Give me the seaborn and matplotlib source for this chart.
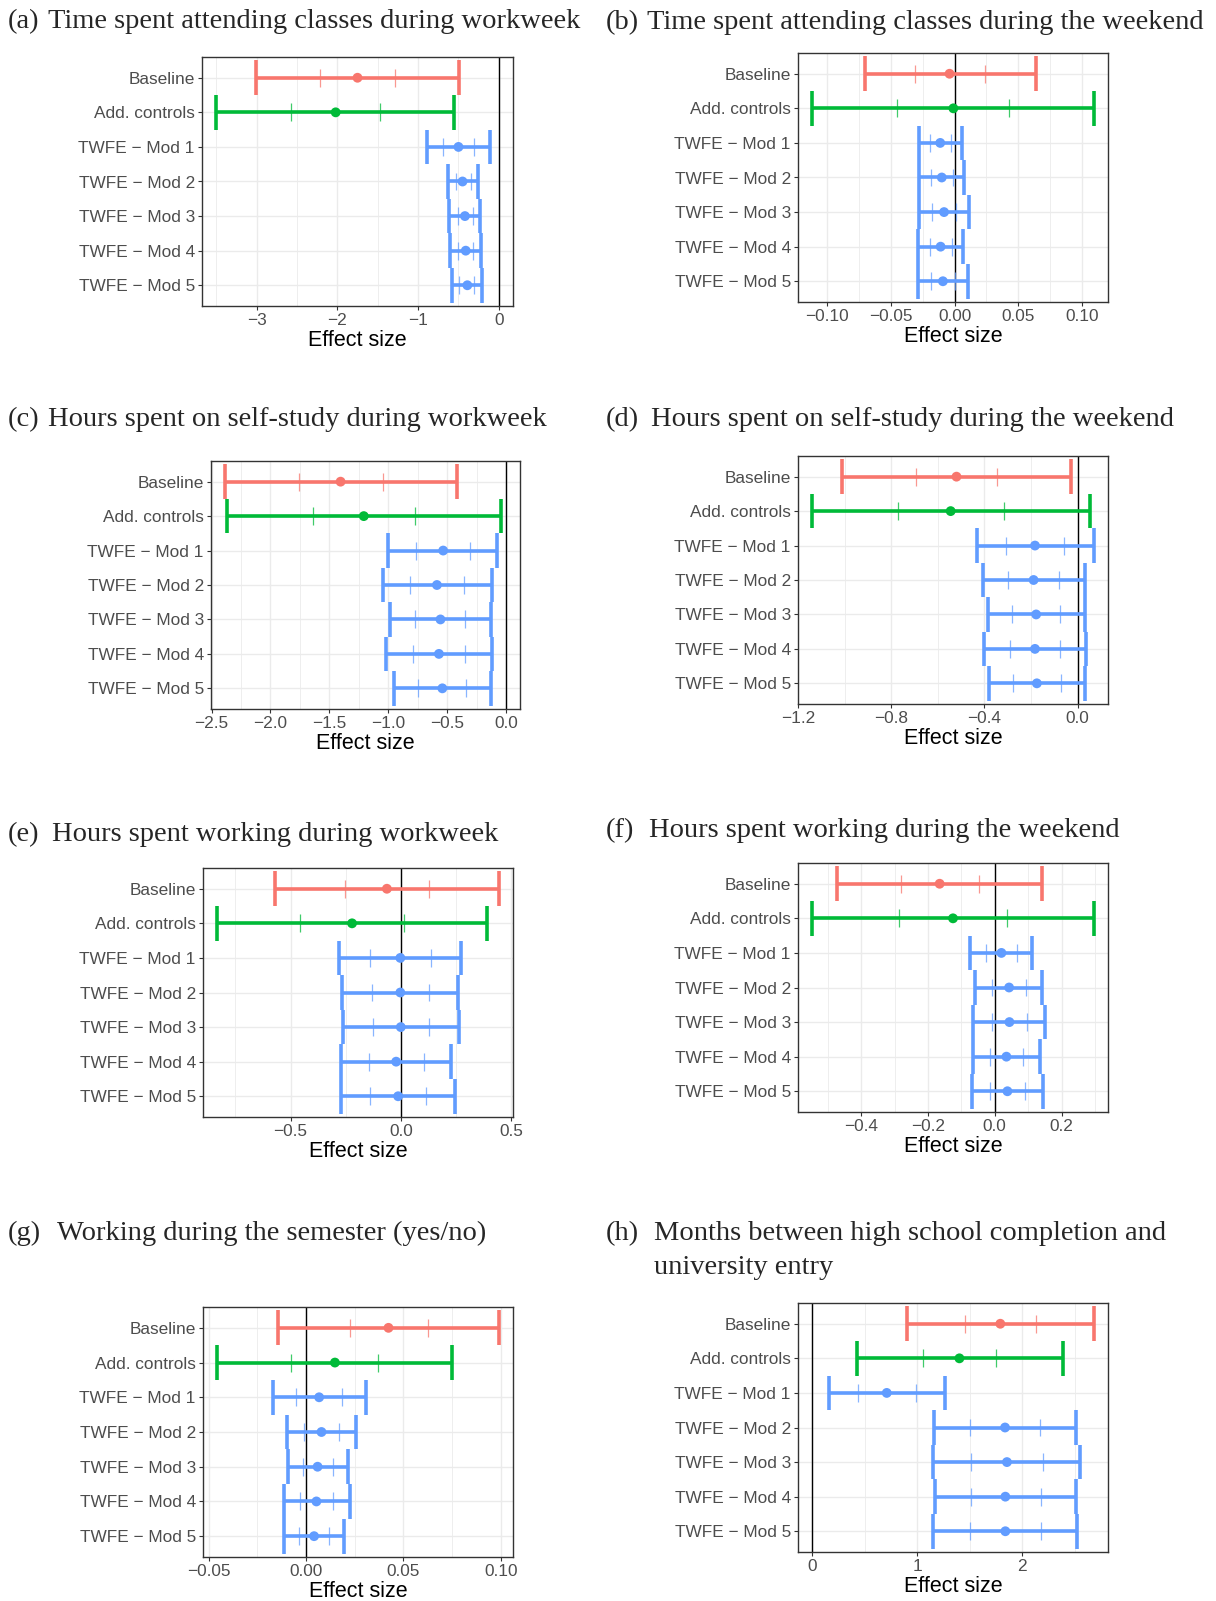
import numpy as np
import matplotlib
matplotlib.use("Agg")
import matplotlib.pyplot as plt
import seaborn as sns

# ---------------- data ----------------
models = ["Baseline", "Add. controls", "TWFE \u2212 Mod 1", "TWFE \u2212 Mod 2",
          "TWFE \u2212 Mod 3", "TWFE \u2212 Mod 4", "TWFE \u2212 Mod 5"]
groups = ["Baseline", "Add. controls", "TWFE", "TWFE", "TWFE", "TWFE", "TWFE"]
palette = {"Baseline": "#F8766D", "Add. controls": "#00BA38", "TWFE": "#619CFF"}

# (a)
a_est = [-1.75, -2.02, -0.50, -0.45, -0.42, -0.41, -0.39]
a_lo = [-3.01, -3.50, -0.885, -0.63, -0.615, -0.60, -0.58]
a_hi = [-0.49, -0.55, -0.11, -0.26, -0.23, -0.22, -0.21]
a_ilo = [-2.21, -2.57, -0.69, -0.53, -0.51, -0.50, -0.49]
a_ihi = [-1.28, -1.47, -0.31, -0.35, -0.32, -0.32, -0.31]
a_ticks = [-3, -2, -1, 0]
a_labels = ["\u22123", "\u22122", "\u22121", "0"]

# (b)
b_est = [-0.0039, -0.0009, -0.0112, -0.0100, -0.0082, -0.0109, -0.0091]
b_lo = [-0.0703, -0.1115, -0.0279, -0.0276, -0.0279, -0.0285, -0.0285]
b_hi = [0.0636, 0.1091, 0.0055, 0.0073, 0.0115, 0.0070, 0.0106]
b_ilo = [-0.0309, -0.0452, -0.0194, -0.0188, -0.0176, -0.0194, -0.0188]
b_ihi = [0.0242, 0.0430, -0.0027, -0.0012, 0.0015, -0.0021, 0.0006]
b_ticks = [-0.10, -0.05, 0.0, 0.05, 0.10]
b_labels = ["\u22120.10", "\u22120.05", "0.00", "0.05", "0.10"]

# (c)
c_est = [-1.404, -1.207, -0.533, -0.586, -0.556, -0.569, -0.540]
c_lo = [-2.385, -2.372, -1.001, -1.044, -0.988, -1.021, -0.949]
c_hi = [-0.419, -0.039, -0.072, -0.121, -0.128, -0.115, -0.131]
c_ilo = [-1.760, -1.636, -0.762, -0.815, -0.772, -0.792, -0.743]
c_ihi = [-1.044, -0.772, -0.304, -0.353, -0.344, -0.347, -0.337]
c_ticks = [-2.5, -2.0, -1.5, -1.0, -0.5, 0.0]
c_labels = ["\u22122.5", "\u22122.0", "\u22121.5", "\u22121.0", "\u22120.5", "0.0"]

# (d)
d_est = [-0.520, -0.545, -0.183, -0.189, -0.178, -0.183, -0.175]
d_lo = [-1.010, -1.140, -0.432, -0.407, -0.386, -0.400, -0.381]
d_hi = [-0.030, 0.053, 0.070, 0.030, 0.032, 0.037, 0.033]
d_ilo = [-0.693, -0.769, -0.307, -0.297, -0.281, -0.291, -0.278]
d_ihi = [-0.346, -0.317, -0.058, -0.081, -0.075, -0.075, -0.071]
d_ticks = [-1.2, -0.8, -0.4, 0.0]
d_labels = ["\u22121.2", "\u22120.8", "\u22120.4", "0.0"]

# (e)
e_est = [-0.063, -0.221, -0.002, -0.002, 0.000, -0.021, -0.012]
e_lo = [-0.571, -0.833, -0.279, -0.267, -0.264, -0.269, -0.269]
e_hi = [0.445, 0.392, 0.274, 0.260, 0.262, 0.228, 0.244]
e_ilo = [-0.255, -0.455, -0.139, -0.132, -0.128, -0.142, -0.139]
e_ihi = [0.128, 0.014, 0.135, 0.128, 0.130, 0.104, 0.116]
e_ticks = [-0.5, 0.0, 0.5]
e_labels = ["\u22120.5", "0.0", "0.5"]

# (f)
f_est = [-0.165, -0.125, 0.020, 0.043, 0.044, 0.035, 0.038]
f_lo = [-0.472, -0.547, -0.073, -0.058, -0.064, -0.066, -0.068]
f_hi = [0.143, 0.297, 0.113, 0.143, 0.150, 0.136, 0.144]
f_ilo = [-0.282, -0.288, -0.027, -0.007, -0.009, -0.015, -0.015]
f_ihi = [-0.048, 0.037, 0.066, 0.093, 0.096, 0.086, 0.091]
f_ticks = [-0.4, -0.2, 0.0, 0.2]
f_labels = ["\u22120.4", "\u22120.2", "0.0", "0.2"]

# (g)
g_est = [0.0424, 0.0149, 0.0068, 0.0080, 0.0060, 0.0054, 0.0042]
g_lo = [-0.0143, -0.0456, -0.0171, -0.0099, -0.0093, -0.0115, -0.0111]
g_hi = [0.0991, 0.0752, 0.0308, 0.0259, 0.0215, 0.0225, 0.0197]
g_ilo = [0.0225, -0.0074, -0.0052, -0.0008, -0.0016, -0.0030, -0.0034]
g_ihi = [0.0629, 0.0370, 0.0187, 0.0169, 0.0137, 0.0139, 0.0119]
g_ticks = [-0.05, 0.0, 0.05, 0.10]
g_labels = ["\u22120.05", "0.00", "0.05", "0.10"]

# (h)
h_est = [1.790, 1.401, 0.710, 1.835, 1.853, 1.838, 1.838]
h_lo = [0.904, 0.426, 0.162, 1.162, 1.154, 1.165, 1.151]
h_hi = [2.680, 2.382, 1.265, 2.507, 2.551, 2.511, 2.522]
h_ilo = [1.452, 1.055, 0.438, 1.500, 1.507, 1.507, 1.500]
h_ihi = [2.129, 1.750, 0.985, 2.169, 2.199, 2.173, 2.176]
h_ticks = [0, 1, 2]
h_labels = ["0", "1", "2"]

titles_tag = ["(a)", "(b)", "(c)", "(d)", "(e)", "(f)", "(g)", "(h)"]
titles_text = [
    "Time spent attending classes during workweek",
    "Time spent attending classes during the weekend",
    "Hours spent on self-study during workweek",
    "Hours spent on self-study during the weekend",
    "Hours spent working during workweek",
    "Hours spent working during the weekend",
    "Working during the semester (yes/no)",
    "Months between high school completion and\nuniversity entry",
]
xlabel = "Effect size"

panels = [
    (a_est, a_lo, a_hi, a_ilo, a_ihi, a_ticks, a_labels),
    (b_est, b_lo, b_hi, b_ilo, b_ihi, b_ticks, b_labels),
    (c_est, c_lo, c_hi, c_ilo, c_ihi, c_ticks, c_labels),
    (d_est, d_lo, d_hi, d_ilo, d_ihi, d_ticks, d_labels),
    (e_est, e_lo, e_hi, e_ilo, e_ihi, e_ticks, e_labels),
    (f_est, f_lo, f_hi, f_ilo, f_ihi, f_ticks, f_labels),
    (g_est, g_lo, g_hi, g_ilo, g_ihi, g_ticks, g_labels),
    (h_est, h_lo, h_hi, h_ilo, h_ihi, h_ticks, h_labels),
]

# ---------------- layout (pixels) ----------------
W, H = 1216, 1601
# left, right, top, bottom of each panel box
boxes = [
    (202, 513, 57, 306), (798, 1108, 53, 302),
    (211, 520, 461, 709), (798, 1108, 456, 704),
    (203, 513, 868, 1117), (798, 1108, 863, 1112),
    (203, 513, 1307, 1557), (798, 1108, 1303, 1552),
]
# title: x of tag, x of text, baseline y of first line
title_pos = [
    (8, 48, 28), (606, 647, 29),
    (8, 48, 426), (606, 651, 426),
    (8, 52, 841), (606, 649, 837),
    (8, 57, 1240), (606, 654, 1240),
]
line_step = 33.5

sns.set_theme(style="whitegrid")
plt.rcParams["font.family"] = ["Liberation Sans", "DejaVu Sans"]
plt.rcParams["axes.unicode_minus"] = True

fig = plt.figure(figsize=(W / 100, H / 100), dpi=100)
fig.patch.set_facecolor("white")

tick_fs = 12.4
lab_fs = 15.5
title_fs = 20.5
dark = "#333333"
serif = ["Liberation Serif", "DejaVu Serif"]

ypos = np.arange(len(models))

for i, (est, lo, hi, ilo, ihi, ticks, labels) in enumerate(panels):
    l, r, t, b = boxes[i]
    ax = fig.add_axes([l / W, 1 - b / H, (r - l) / W, (b - t) / H])
    ax.set_facecolor("white")
    est = np.asarray(est); lo = np.asarray(lo); hi = np.asarray(hi)
    ilo = np.asarray(ilo); ihi = np.asarray(ihi)
    cols = [palette[g] for g in groups]

    xmin = min(lo.min(), 0.0); xmax = max(hi.max(), 0.0)
    pad = 0.05 * (xmax - xmin)
    xlim = (xmin - pad, xmax + pad)

    # grid
    step = ticks[1] - ticks[0]
    ext = [ticks[0] - step] + list(ticks) + [ticks[-1] + step]
    minors = [(ext[k] + ext[k + 1]) / 2 for k in range(len(ext) - 1)]
    minors = [m for m in minors if xlim[0] <= m <= xlim[1]]
    for m in minors:
        ax.axvline(m, color="#EBEBEB", lw=0.6, zorder=0)
    ax.grid(False)
    for tk in ticks:
        ax.axvline(tk, color="#EBEBEB", lw=1.0, zorder=0.5)
    for yy in ypos:
        ax.axhline(yy, color="#EBEBEB", lw=1.0, zorder=0.5)

    ax.axvline(0, color="black", lw=1.0, zorder=1)

    # CI lines, caps, inner ticks
    ax.hlines(ypos, lo, hi, colors=cols, lw=2.6, zorder=2)
    ax.vlines(lo, ypos - 0.5, ypos + 0.5, colors=cols, lw=2.6, zorder=2)
    ax.vlines(hi, ypos - 0.5, ypos + 0.5, colors=cols, lw=2.6, zorder=2)
    ax.vlines(ilo, ypos - 0.26, ypos + 0.26, colors=cols, lw=0.9, alpha=0.75, zorder=2)
    ax.vlines(ihi, ypos - 0.26, ypos + 0.26, colors=cols, lw=0.9, alpha=0.75, zorder=2)

    sns.scatterplot(x=est, y=ypos, hue=groups, palette=palette, s=50,
                    edgecolor="none", legend=False, zorder=3, ax=ax)

    ax.set_xlim(*xlim)
    ax.set_ylim(len(models) - 0.4, -0.6)
    ax.set_yticks(ypos)
    ax.set_yticklabels(models)
    ax.set_xticks(ticks)
    ax.set_xticklabels(labels)
    ax.tick_params(axis="both", which="major", length=2.7, width=0.8,
                   color=dark, labelsize=tick_fs, labelcolor="#4D4D4D", pad=2.5,
                   bottom=True, left=True)
    ax.set_xlabel(xlabel, fontsize=lab_fs, color="black", labelpad=1)
    ax.set_ylabel("")
    for s in ax.spines.values():
        s.set_visible(True)
        s.set_color(dark)
        s.set_linewidth(1.0)

    tx, ttx, ty = title_pos[i]
    fig.text(tx / W, 1 - ty / H, titles_tag[i], fontsize=title_fs,
             family=serif, va="baseline", ha="left")
    for k, line in enumerate(titles_text[i].split("\n")):
        fig.text(ttx / W, 1 - (ty + k * line_step) / H, line, fontsize=title_fs,
                 family=serif, va="baseline", ha="left")

fig.savefig("out.png", dpi=100, facecolor="white")
